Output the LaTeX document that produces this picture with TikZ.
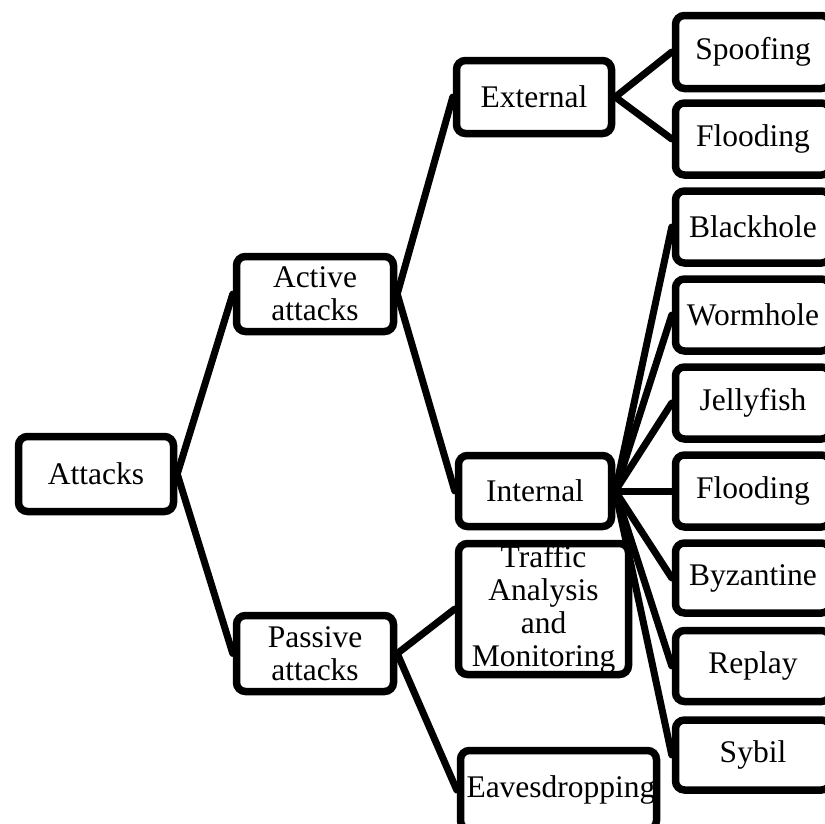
\documentclass[tikz,border=0pt]{standalone}
\usepackage{fontspec}
\setmainfont{Liberation Serif}
\usetikzlibrary{backgrounds}
\begin{document}
\begin{tikzpicture}[x=1pt,y=-1pt,
  box/.style n args={2}{draw, line width=7.5pt, rounded corners=9pt, fill=white,
    align=center, inner sep=0pt, text width=#1pt-12pt,
    minimum width=#1pt, minimum height=#2pt,
    font=\fontsize{31.5}{33}\selectfont},
  link/.style={line width=7pt, line cap=round}]
\useasboundingbox (0,0) rectangle (825,823);
\clip (0,0) rectangle (825,823);

% root and first level
\node[box={155}{75}] (attacks) at (96,474) {Attacks};
\node[box={157}{75}] (active)  at (315,294) {Active\\attacks};
\node[box={157}{76}] (passive) at (315,653.5) {Passive\\attacks};

% second level
\node[box={155}{73}] (external) at (534,97) {External};
\node[box={153}{71}] (internal) at (535,491) {Internal};
\node[box={170}{131}] (traffic) at (543.5,609) {Traffic\\Analysis\\and\\Monitoring};
\node[box={196}{79}] (eaves) at (558.5,790) {Eavesdropping};

% leaves
\node[box={155}{73}] (spoof)  at (753,52)  {Spoofing};
\node[box={155}{72}] (flood1) at (753,139) {Flooding};
\node[box={155}{72}] (black)  at (753,227) {Blackhole};
\node[box={155}{72}] (worm)   at (753,315) {Wormhole};
\node[box={155}{72}] (jelly)  at (753,403) {Jellyfish};
\node[box={155}{72}] (flood2) at (753,491) {Flooding};
\node[box={155}{70}] (byz)    at (753,578) {Byzantine};
\node[box={155}{71}] (replay) at (753,666) {Replay};
\node[box={155}{70}] (sybil)  at (753,755) {Sybil};

% connectors
\begin{scope}[on background layer]
  \draw[link] (attacks.east) -- (active.west);
  \draw[link] (attacks.east) -- (passive.west);
  \draw[link] (active.east) -- (external.west);
  \draw[link] (active.east) -- (internal.west);
  \draw[link] (passive.east) -- (traffic.west);
  \draw[link] (passive.east) -- (eaves.west);
  \draw[link] (external.east) -- (spoof.west);
  \draw[link] (external.east) -- (flood1.west);
  \foreach \leaf in {black,worm,jelly,flood2,byz,replay,sybil}
    \draw[link] (internal.east) -- (\leaf.west);
\end{scope}
\end{tikzpicture}
\end{document}
